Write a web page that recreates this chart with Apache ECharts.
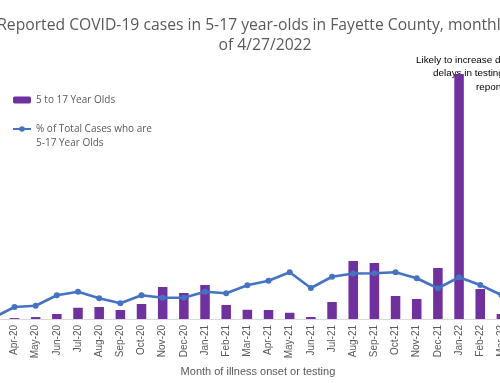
<!DOCTYPE html>
<html><head><meta charset="utf-8">
<script src="https://cdn.jsdelivr.net/npm/echarts@6/dist/echarts.min.js"></script>
<style>html,body{margin:0;padding:0;width:500px;height:383px;overflow:hidden;background:#fff}
#c{position:absolute;left:-100px;top:0;width:730px;height:383px}</style>
</head><body><div id="c"></div>
<script>
const categories = ['Mar-20','Apr-20','May-20','Jun-20','Jul-20','Aug-20','Sep-20','Oct-20','Nov-20','Dec-20',
  'Jan-21','Feb-21','Mar-21','Apr-21','May-21','Jun-21','Jul-21','Aug-21','Sep-21','Oct-21','Nov-21','Dec-21',
  'Jan-22','Feb-22','Mar-22','Apr-22'];
const cases517 = [4,18,38,100,225,240,180,300,640,520,680,280,185,180,125,40,340,1160,1120,460,400,1020,4900,600,100,30];
const pctOfTotal = [0.5,4.8,5.3,9.5,10.9,8.3,6.3,9.5,8.5,8.5,10.9,10.3,13.5,15.3,18.7,12.4,16.9,18.2,18.3,18.7,16.3,12.3,16.7,13.6,9.6,10];
const titleText = 'Reported COVID-19 cases in 5-17 year-olds in Fayette County, monthly, as\nof 4/27/2022';
const xAxisName = 'Month of illness onset or testing';
const barName = '5 to 17 Year Olds';
const lineName = '% of Total Cases who are 5-17 Year Olds';
const noteLines = ['Likely to increase due to', 'delays in testing and', 'reporting'];

const chart = echarts.init(document.getElementById('c'));
const grey = '#595959';
chart.setOption({
  animation: false,
  backgroundColor: '#fff',
  textStyle: { fontFamily: 'Open Sans' },
  title: {
    text: titleText, left: 'center', top: 16, padding: 0,
    textStyle: { fontSize: 15.7, fontWeight: 'normal', color: grey, lineHeight: 20, fontFamily: 'Open Sans' }
  },
  legend: {
    orient: 'vertical', left: 112, top: 93, itemGap: 1, itemWidth: 18, itemHeight: 7, padding: 0,
    data: [barName, lineName],
    formatter: function (n) { return n === lineName ? '\n% of Total Cases who are\n5-17 Year Olds' : n; },
    textStyle: { fontSize: 10, color: grey, lineHeight: 14, fontFamily: 'Open Sans' }
  },
  grid: { left: 82.75, right: 96.85, top: 69, bottom: 64 },
  xAxis: {
    type: 'category', data: categories,
    axisLine: { lineStyle: { color: '#d9d9d9', width: 1 } },
    axisTick: { show: false },
    axisLabel: { rotate: 90, fontSize: 10, color: grey, margin: 6, interval: 0, fontFamily: 'Liberation Sans' },
    name: xAxisName, nameLocation: 'middle', nameGap: 44,
    nameTextStyle: { fontSize: 11, color: grey, fontFamily: 'Liberation Sans' }
  },
  yAxis: [
    { type: 'value', min: 0, max: 5000, show: false, splitLine: { show: false } },
    { type: 'value', min: 0, max: 100, show: false, splitLine: { show: false } }
  ],
  graphic: noteLines.map(function (t, i) {
    const xs = [516, 533, 576];
    return { type: 'text', left: xs[i], top: 55 + i * 13.5,
      style: { text: t, fontSize: 9.9, fill: '#000', fontFamily: 'Liberation Sans' } };
  }),
  series: [
    { name: barName, type: 'bar', data: cases517, barWidth: '45%', itemStyle: { color: '#7030A0' } },
    { name: lineName, type: 'line', yAxisIndex: 1, data: pctOfTotal, symbol: 'circle', symbolSize: 6,
      lineStyle: { color: '#4472C4', width: 2.6 }, itemStyle: { color: '#4472C4' } }
  ]
});
</script></body></html>
